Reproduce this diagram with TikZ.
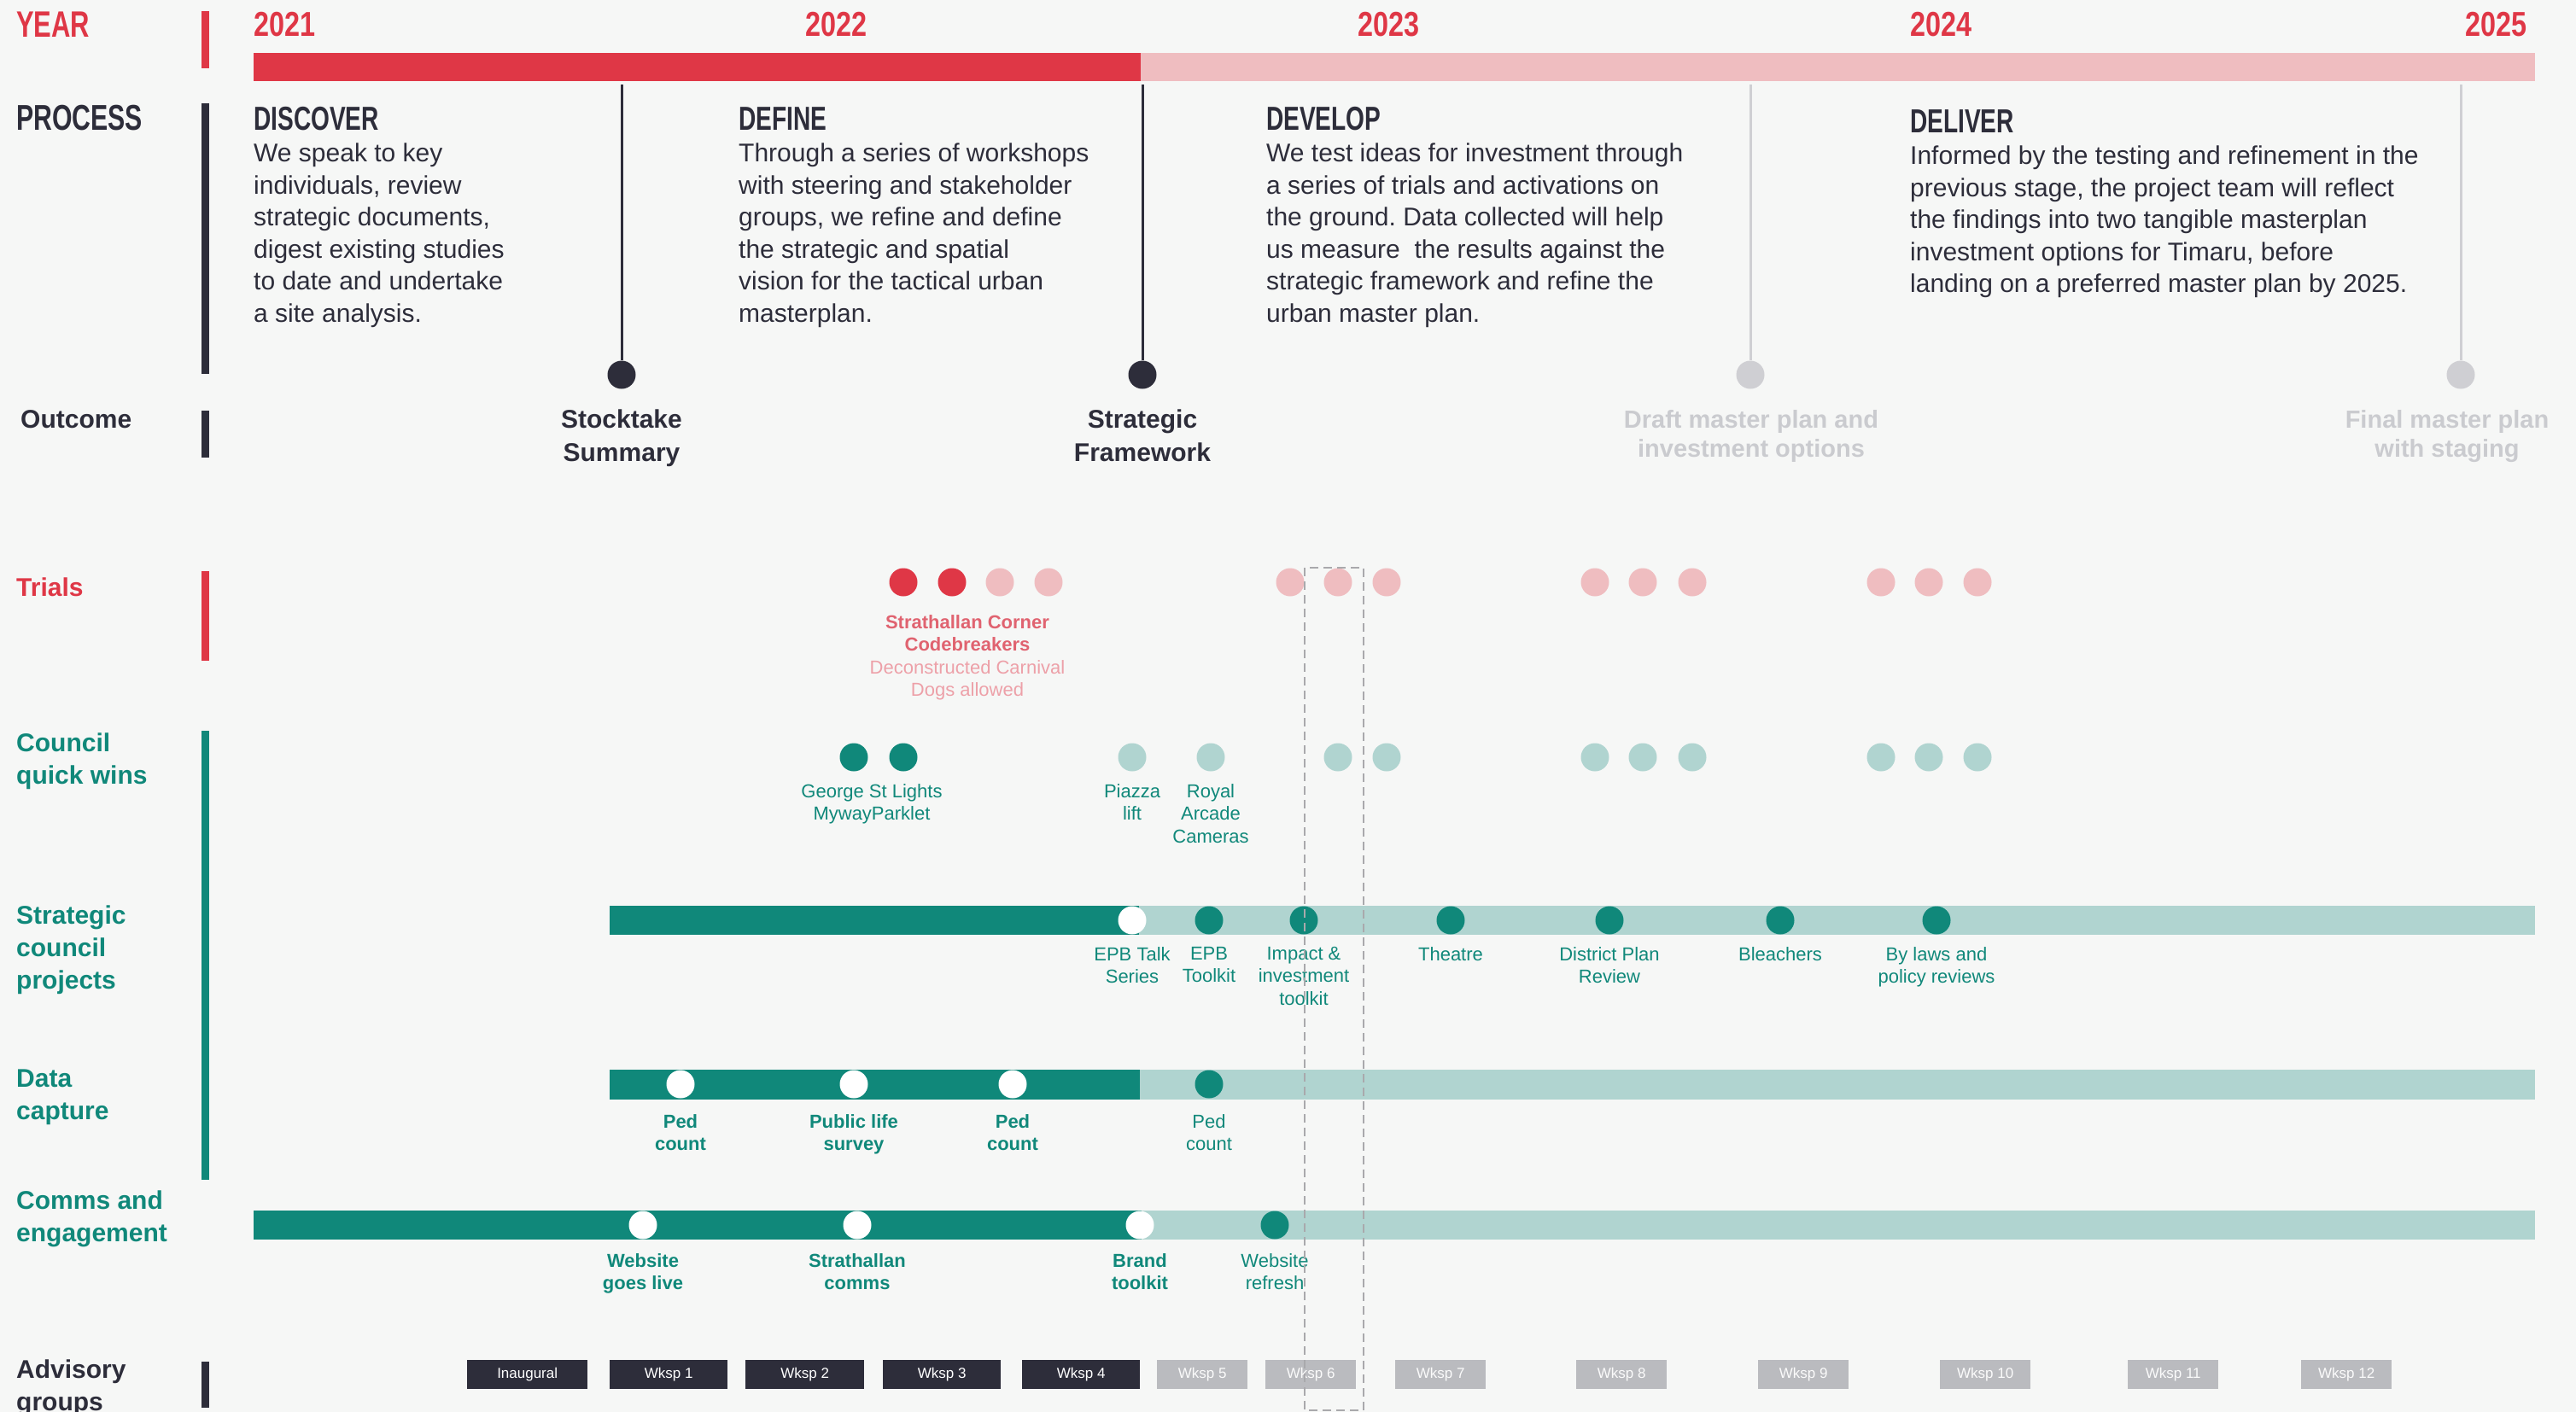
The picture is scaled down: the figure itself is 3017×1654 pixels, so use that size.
\documentclass[tikz,border=0pt]{standalone}
\usepackage{fontspec}
\setmainfont{Liberation Sans}
\newfontfamily\headfont[FakeStretch=0.72]{Liberation Sans}
\newfontfamily\yearfont[FakeStretch=0.8]{Liberation Sans}
\frenchspacing

\definecolor{cBg}{HTML}{F6F7F6}
\definecolor{cRed}{HTML}{DF3746}
\definecolor{cRedTxt}{HTML}{E06370}
\definecolor{cPink}{HTML}{EFBDC0}
\definecolor{cPinkTxt}{HTML}{EDA0A8}
\definecolor{cInk}{HTML}{2D2D3A}
\definecolor{cTeal}{HTML}{10887A}
\definecolor{cTealL}{HTML}{B0D4D0}
\definecolor{cGreyLine}{HTML}{CFCFD3}
\definecolor{cGreyTxt}{HTML}{CACBCF}
\definecolor{cGreyBox}{HTML}{BABBBF}
\definecolor{cDash}{HTML}{A9A9AC}

\tikzset{
  dotnode/.style={circle, inner sep=0pt, minimum size=33pt},
  bodytext/.style={anchor=north west, inner sep=0pt, align=left, text=cInk,
    font=\fontsize{30}{37.5}\selectfont},
  headtext/.style={anchor=north west, inner sep=0pt, text=cInk,
    font=\headfont\bfseries\fontsize{39}{39}\selectfont},
  yeartext/.style={anchor=north west, inner sep=0pt, text=cRed,
    font=\yearfont\bfseries\fontsize{40.5}{40.5}\selectfont},
  rowlabel/.style={anchor=north west, inner sep=0pt, align=left,
    font=\bfseries\fontsize{30}{38}\selectfont},
  outcome/.style={anchor=north, inner sep=0pt, align=center, text=cInk,
    font=\bfseries\fontsize{30}{39}\selectfont},
  outcomegrey/.style={anchor=north, inner sep=0pt, align=center, text=cGreyTxt,
    font=\bfseries\fontsize{29}{34}\selectfont},
  tag/.style={anchor=north, inner sep=0pt, align=center, text=cTeal,
    font=\fontsize{22}{26.5}\selectfont},
  tagb/.style={tag, font=\bfseries\fontsize{22}{26.5}\selectfont},
  wkdark/.style={anchor=west, inner sep=0pt, minimum height=34pt, fill=cInk,
    text=white, font=\fontsize{17}{17}\selectfont},
  wkgrey/.style={anchor=west, inner sep=0pt, minimum height=34pt, fill=cGreyBox,
    text=white!94!cGreyBox, font=\fontsize{17}{17}\selectfont, minimum width=106pt},
  rulebar/.style={line width=9pt},
}

\begin{document}
\begin{tikzpicture}[x=1pt, y=-1pt]
  % canvas
  \fill[cBg] (0,0) rectangle (3017,1654);
  \useasboundingbox (0,0) rectangle (3017,1654);

  % ---------- left column labels and rules ----------
  \node[headtext, text=cRed, font=\headfont\bfseries\fontsize{43}{43}\selectfont] (lblYear) at (19,14) {YEAR};
  \draw[rulebar, cRed] (240.5,13) -- (240.5,80);
  \node[headtext, font=\headfont\bfseries\fontsize{42}{42}\selectfont] (lblProcess) at (19,123) {PROCESS};
  \draw[rulebar, cInk] (240.5,121) -- (240.5,438);
  \node[rowlabel, text=cInk] (lblOutcome) at (24,480) {Outcome};
  \draw[rulebar, cInk] (240.5,481) -- (240.5,536);
  \node[rowlabel, text=cRed] (lblTrials) at (19,677) {Trials};
  \draw[rulebar, cRed] (240.5,669) -- (240.5,774);
  \node[rowlabel, text=cTeal] (lblQuick) at (19,859) {Council\\quick wins};
  \node[rowlabel, text=cTeal] (lblStrat) at (19,1061) {Strategic\\council\\projects};
  \node[rowlabel, text=cTeal] (lblData) at (19,1253) {Data\\capture};
  \draw[rulebar, cTeal] (240.5,856) -- (240.5,1382);
  \node[rowlabel, text=cTeal] (lblComms) at (19,1395) {Comms and\\engagement};
  \node[rowlabel, text=cInk] (lblAdvisory) at (19,1593) {Advisory\\groups};
  \draw[rulebar, cInk] (240.5,1595) -- (240.5,1649);

  % ---------- years and time bar ----------
  \node[yeartext] (y2021) at (297,14) {2021};
  \node[yeartext] (y2022) at (943,14) {2022};
  \node[yeartext] (y2023) at (1590,14) {2023};
  \node[yeartext] (y2024) at (2237,14) {2024};
  \node[yeartext, anchor=north east] (y2025) at (2960,14) {2025};
  \fill[cPink] (1336,62) rectangle (2969,95);
  \fill[cRed] (297,62) rectangle (1336,95);

  % ---------- process stages ----------
  \node[headtext] (hDiscover) at (297,125) {DISCOVER};
  \node[bodytext] (tDiscover) at (297,168) {We speak to key\\individuals, review\\strategic documents,\\digest existing studies\\to date and undertake\\a site analysis.};
  \node[headtext] (hDefine) at (865,125) {DEFINE};
  \node[bodytext] (tDefine) at (865,168) {Through a series of workshops\\with steering and stakeholder\\groups, we refine and define\\the strategic and spatial\\vision for the tactical urban\\masterplan.};
  \node[headtext] (hDevelop) at (1483,125) {DEVELOP};
  \node[bodytext] (tDevelop) at (1483,168) {We test ideas for investment through\\a series of trials and activations on\\the ground. Data collected will help\\us measure\ \ the results against the\\strategic framework and refine the\\urban master plan.};
  \node[headtext] (hDeliver) at (2237,128) {DELIVER};
  \node[bodytext] (tDeliver) at (2237,171) {Informed by the testing and refinement in the\\previous stage, the project team will reflect\\the findings into two tangible masterplan\\investment options for Timaru, before\\landing on a preferred master plan by 2025.};

  % ---------- outcomes ----------
  \coordinate (oTop1) at (728,99);
  \coordinate (oTop2) at (1338,99);
  \coordinate (oTop3) at (2050,99);
  \coordinate (oTop4) at (2882,99);
  \node[dotnode, fill=cInk] (oDot1) at (728,439) {};
  \node[dotnode, fill=cInk] (oDot2) at (1338,439) {};
  \node[dotnode, fill=cGreyLine] (oDot3) at (2050,439) {};
  \node[dotnode, fill=cGreyLine] (oDot4) at (2882,439) {};
  \draw[cInk, line width=3pt] (oTop1) -- (oDot1);
  \draw[cInk, line width=3pt] (oTop2) -- (oDot2);
  \draw[cGreyLine, line width=3pt] (oTop3) -- (oDot3);
  \draw[cGreyLine, line width=3pt] (oTop4) -- (oDot4);
  \node[outcome] (oTxt1) at (728,480) {Stocktake\\Summary};
  \node[outcome] (oTxt2) at (1338,480) {Strategic\\Framework};
  \node[outcomegrey] (oTxt3) at (2051,480) {Draft master plan and\\investment options};
  \node[outcomegrey] (oTxt4) at (2866,480) {Final master plan\\with staging};

  % ---------- trials ----------
  \foreach \n/\x/\c in {1/1058/cRed, 2/1115/cRed, 3/1171/cPink, 4/1228/cPink,
      5/1511/cPink, 6/1567/cPink, 7/1624/cPink,
      8/1868/cPink, 9/1924/cPink, 10/1982/cPink,
      11/2203/cPink, 12/2259/cPink, 13/2316/cPink}
    \node[dotnode, fill=\c] (tr\n) at (\x,682) {};
  \node[anchor=north, inner sep=0pt, align=center, font=\fontsize{22}{26.5}\selectfont] (trTxt) at (1133,720)
    {\textcolor{cRedTxt}{\bfseries Strathallan Corner}\\\textcolor{cRedTxt}{\bfseries Codebreakers}\\\textcolor{cPinkTxt}{Deconstructed Carnival}\\\textcolor{cPinkTxt}{Dogs allowed}};

  % ---------- council quick wins ----------
  \foreach \n/\x/\c in {1/1000/cTeal, 2/1058/cTeal, 3/1326/cTealL, 4/1418/cTealL,
      5/1567/cTealL, 6/1624/cTealL,
      7/1868/cTealL, 8/1924/cTealL, 9/1982/cTealL,
      10/2203/cTealL, 11/2259/cTealL, 12/2316/cTealL}
    \node[dotnode, fill=\c] (qw\n) at (\x,887) {};
  \node[tag] (qwTxt1) at (1021,918) {George St Lights\\MywayParklet};
  \node[tag] (qwTxt2) at (1326,918) {Piazza\\lift};
  \node[tag] (qwTxt3) at (1418,918) {Royal\\Arcade\\Cameras};

  % ---------- strategic council projects ----------
  \fill[cTealL] (1334,1061) rectangle (2969,1095);
  \fill[cTeal] (714,1061) rectangle (1334,1095);
  \node[dotnode, fill=white] (sp1) at (1326,1078) {};
  \foreach \n/\x in {2/1416, 3/1527, 4/1699, 5/1885, 6/2085, 7/2268}
    \node[dotnode, fill=cTeal] (sp\n) at (\x,1078) {};
  \node[tag] (spTxt1) at (1326,1109) {EPB Talk\\Series};
  \node[tag] (spTxt2) at (1416,1109) {EPB\\Toolkit};
  \node[tag] (spTxt3) at (1527,1109) {Impact \&\\investment\\toolkit};
  \node[tag] (spTxt4) at (1699,1109) {Theatre};
  \node[tag] (spTxt5) at (1885,1109) {District Plan\\Review};
  \node[tag] (spTxt6) at (2085,1109) {Bleachers};
  \node[tag] (spTxt7) at (2268,1109) {By laws and\\policy reviews};

  % ---------- data capture ----------
  \fill[cTealL] (1335,1253) rectangle (2969,1288);
  \fill[cTeal] (714,1253) rectangle (1335,1288);
  \node[dotnode, fill=white] (dc1) at (797,1270) {};
  \node[dotnode, fill=white] (dc2) at (1000,1270) {};
  \node[dotnode, fill=white] (dc3) at (1186,1270) {};
  \node[dotnode, fill=cTeal] (dc4) at (1416,1270) {};
  \node[tagb] (dcTxt1) at (797,1305) {Ped\\count};
  \node[tagb] (dcTxt2) at (1000,1305) {Public life\\survey};
  \node[tagb] (dcTxt3) at (1186,1305) {Ped\\count};
  \node[tag] (dcTxt4) at (1416,1305) {Ped\\count};

  % ---------- comms and engagement ----------
  \fill[cTealL] (1337,1418) rectangle (2969,1452);
  \fill[cTeal] (297,1418) rectangle (1337,1452);
  \node[dotnode, fill=white] (ce1) at (753,1435) {};
  \node[dotnode, fill=white] (ce2) at (1004,1435) {};
  \node[dotnode, fill=white] (ce3) at (1335,1435) {};
  \node[dotnode, fill=cTeal] (ce4) at (1493,1435) {};
  \node[tagb] (ceTxt1) at (753,1468) {Website\\goes live};
  \node[tagb] (ceTxt2) at (1004,1468) {Strathallan\\comms};
  \node[tagb] (ceTxt3) at (1335,1468) {Brand\\toolkit};
  \node[tag] (ceTxt4) at (1493,1468) {Website\\refresh};

  % ---------- advisory group workshops ----------
  \node[wkdark, minimum width=141pt] (wk0) at (547,1610) {Inaugural};
  \node[wkdark, minimum width=138pt] (wk1) at (714,1610) {Wksp 1};
  \node[wkdark, minimum width=139pt] (wk2) at (873,1610) {Wksp 2};
  \node[wkdark, minimum width=138pt] (wk3) at (1034,1610) {Wksp 3};
  \node[wkdark, minimum width=138pt] (wk4) at (1197,1610) {Wksp 4};
  \node[wkgrey] (wk5) at (1355,1610) {Wksp 5};
  \node[wkgrey] (wk6) at (1482,1610) {Wksp 6};
  \node[wkgrey] (wk7) at (1634,1610) {Wksp 7};
  \node[wkgrey] (wk8) at (1846,1610) {Wksp 8};
  \node[wkgrey] (wk9) at (2059,1610) {Wksp 9};
  \node[wkgrey] (wk10) at (2272,1610) {Wksp 10};
  \node[wkgrey] (wk11) at (2492,1610) {Wksp 11};
  \node[wkgrey] (wk12) at (2695,1610) {Wksp 12};

  % ---------- current-period marker ----------
  \draw[cDash, line width=1.6pt, dash pattern=on 10pt off 6pt] (1528,665) rectangle (1597,1652);
\end{tikzpicture}
\end{document}
